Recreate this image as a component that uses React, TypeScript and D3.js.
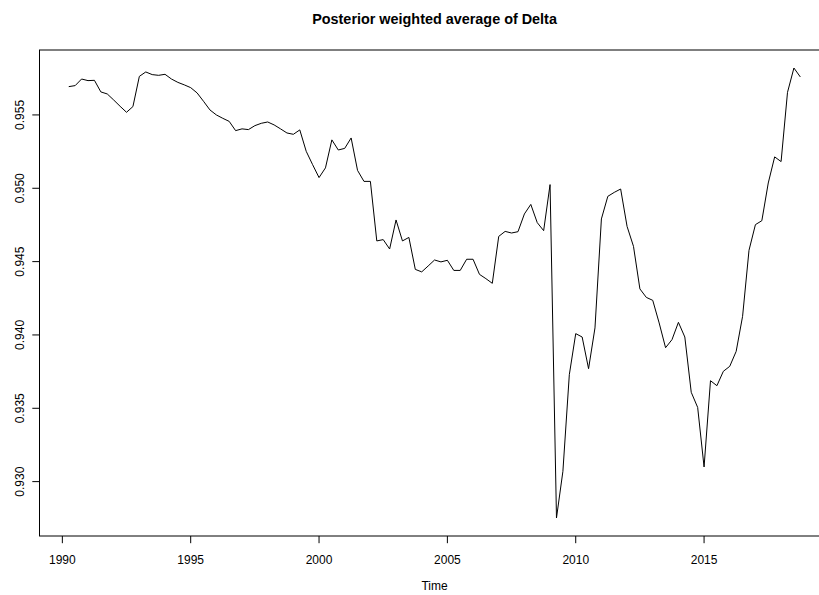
import React from 'react';
import * as d3 from 'd3';

// quarterly series, starting 1990 Q2
const startYear = 1990.25;
const frequency = 4;

const delta = [
  0.95693, 0.95700, 0.95745, 0.95734, 0.95736, 0.95657, 0.95643, 0.95602,
  0.95559, 0.95518, 0.95557, 0.95763, 0.95793, 0.95775, 0.95770, 0.95777,
  0.95745, 0.95722, 0.95705, 0.95686, 0.95650, 0.95593, 0.95534, 0.95500,
  0.95477, 0.95456, 0.95393, 0.95405, 0.95400, 0.95427, 0.95443, 0.95452,
  0.95432, 0.95405, 0.95377, 0.95368, 0.95398, 0.95252, 0.95161, 0.95073,
  0.95139, 0.95330, 0.95261, 0.95272, 0.95343, 0.95122, 0.95047, 0.95047,
  0.94641, 0.94650, 0.94586, 0.94784, 0.94641, 0.94665, 0.94447, 0.94430,
  0.94470, 0.94511, 0.94498, 0.94509, 0.94440, 0.94440, 0.94516, 0.94516,
  0.94413, 0.94384, 0.94352, 0.94672, 0.94706, 0.94695, 0.94704, 0.94825,
  0.94890, 0.94766, 0.94711, 0.95025, 0.92752, 0.93070, 0.93729, 0.94009,
  0.93986, 0.93770, 0.94048, 0.94791, 0.94945, 0.94972, 0.94995, 0.94740,
  0.94604, 0.94314, 0.94256, 0.94236, 0.94082, 0.93913, 0.93968, 0.94086,
  0.93986, 0.93609, 0.93506, 0.93100, 0.93688, 0.93654, 0.93752, 0.93786,
  0.93888, 0.94127, 0.94577, 0.94752, 0.94779, 0.95036, 0.95214, 0.95182,
  0.95654, 0.95820, 0.95759,
];

const xTicks = [1990, 1995, 2000, 2005, 2010, 2015];
const yTicks = [0.93, 0.935, 0.94, 0.945, 0.95, 0.955];

const title = 'Posterior weighted average of Delta';
const xLabel = 'Time';

const width = 819;
const height = 595;
const font = '"Liberation Sans", Arial, Helvetica, sans-serif';

export default function App() {
  const points = delta.map((v, i) => ({ t: startYear + i / frequency, v }));

  // R style: axis range padded by 4%
  const tExt = d3.extent(points, (d) => d.t) as [number, number];
  const vExt = d3.extent(points, (d) => d.v) as [number, number];
  const tPad = (tExt[1] - tExt[0]) * 0.04;
  const vPad = (vExt[1] - vExt[0]) * 0.04;

  const left = 39.5;
  const right = 829.6;
  const top = 50;
  const bottom = 536;

  const x = d3.scaleLinear().domain([tExt[0] - tPad, tExt[1] + tPad]).range([left, right]);
  const y = d3.scaleLinear().domain([vExt[0] - vPad, vExt[1] + vPad]).range([bottom, top]);

  const line = d3
    .line<{ t: number; v: number }>()
    .x((d) => x(d.t))
    .y((d) => y(d.v));

  const tick = 7.2;

  return (
    <svg
      width={width}
      height={height}
      style={{ position: 'absolute', left: 0, top: 0, background: '#fff' }}
      fontFamily={font}
    >
      <rect x={0} y={0} width={width} height={height} fill="#fff" />
      <text x={(left + right) / 2} y={24} textAnchor="middle" fontSize={14.4} fontWeight="bold">
        {title}
      </text>

      <path d={line(points) || ''} fill="none" stroke="#000" strokeWidth={1} />

      <rect
        x={left}
        y={top}
        width={right - left}
        height={bottom - top}
        fill="none"
        stroke="#000"
        strokeWidth={1}
      />

      {xTicks.map((t) => (
        <g key={t}>
          <line x1={x(t)} x2={x(t)} y1={bottom} y2={bottom + tick} stroke="#000" />
          <text x={x(t)} y={564} textAnchor="middle" fontSize={12}>
            {t}
          </text>
        </g>
      ))}

      {yTicks.map((v) => (
        <g key={v}>
          <line x1={left} x2={left - tick} y1={y(v)} y2={y(v)} stroke="#000" />
          <text
            transform={`translate(23.5,${y(v)}) rotate(-90)`}
            textAnchor="middle"
            fontSize={12}
          >
            {v.toFixed(3)}
          </text>
        </g>
      ))}

      <text x={(left + right) / 2} y={590} textAnchor="middle" fontSize={12}>
        {xLabel}
      </text>
    </svg>
  );
}
